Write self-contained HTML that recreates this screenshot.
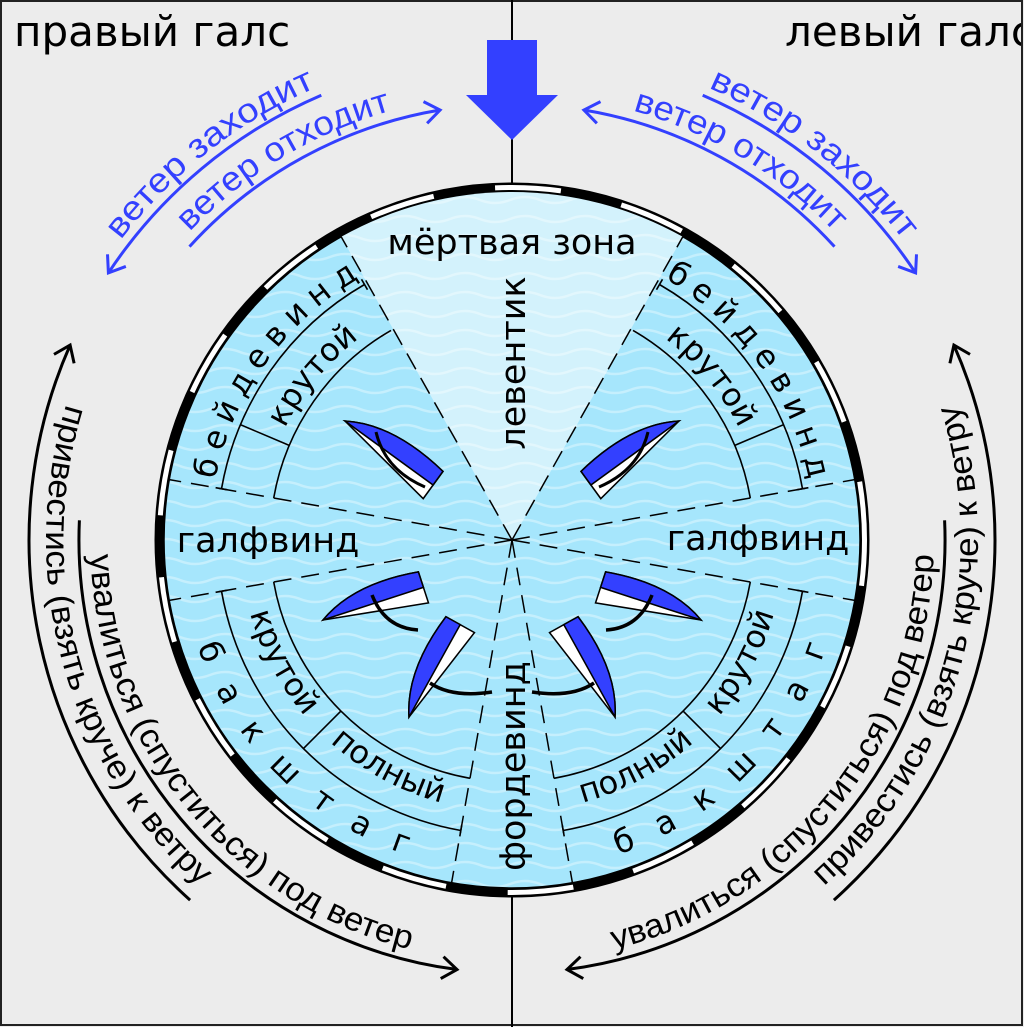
<!DOCTYPE html>
<html><head><meta charset="utf-8"><style>
html,body{margin:0;padding:0;background:#ececec}
svg{display:block}
.dj{font-family:"DejaVu Sans","Liberation Sans",sans-serif}
.ls{font-family:"Liberation Sans","DejaVu Sans",sans-serif}
</style></head><body>
<svg width="1024" height="1027" viewBox="0 0 1024 1027" xmlns="http://www.w3.org/2000/svg">
<defs>
<pattern id="wv" x="0" y="0" width="60" height="19" patternUnits="userSpaceOnUse">
<path d="M-30,10 Q-15,4 0,10 T30,10 T60,10 T90,10" fill="none" stroke="#fff" stroke-opacity="0.35" stroke-width="2.5"/>
</pattern>
<clipPath id="frame"><rect x="2" y="2" width="1019" height="1022"/></clipPath>
<marker id="ab" markerWidth="30" markerHeight="30" refX="0" refY="0" orient="auto" markerUnits="userSpaceOnUse" style="overflow:visible"><path d="M-15,-11 L0,0 L-15,11" fill="none" stroke="#3340ff" stroke-width="3"/></marker>
<marker id="ak" markerWidth="30" markerHeight="30" refX="0" refY="0" orient="auto" markerUnits="userSpaceOnUse" style="overflow:visible"><path d="M-15,-11 L0,0 L-15,11" fill="none" stroke="#000" stroke-width="3"/></marker>
<g id="boat">
<path d="M0,0 L-17,110 L17,110 C24,60 16,25 0,0Z" fill="#fff" stroke="#000" stroke-width="1.6"/>
<path d="M0,0 L0,110 L17,110 C24,60 16,25 0,0Z" fill="#3340ff" stroke="#000" stroke-width="1.6"/>
</g>
<g id="half">
<path d="M221.5,488.8 A295,295 0 0 1 364.5,284.5" fill="none" stroke="#000" stroke-width="1.6"/>
<path d="M273.7,498 A242,242 0 0 1 391,330.4" fill="none" stroke="#000" stroke-width="1.6"/>
<line x1="289.2" y1="445.4" x2="240.5" y2="424.7" stroke="#000" stroke-width="1.6"/>
<line x1="227.4" y1="489.8" x2="215.6" y2="487.7" stroke="#000" stroke-width="1.6"/>
<line x1="367.5" y1="289.7" x2="361.5" y2="279.3" stroke="#000" stroke-width="1.6"/>
<path d="M221.5,591.2 A295,295 0 0 0 460.8,830.5" fill="none" stroke="#000" stroke-width="1.6"/>
<path d="M273.7,582 A242,242 0 0 0 470,778.3" fill="none" stroke="#000" stroke-width="1.6"/>
<line x1="340.9" y1="711.1" x2="303.4" y2="748.6" stroke="#000" stroke-width="1.6"/>
<line x1="227.4" y1="590.2" x2="215.6" y2="592.3" stroke="#000" stroke-width="1.6"/>
<line x1="461.8" y1="824.6" x2="459.8" y2="836.4" stroke="#000" stroke-width="1.6"/>
<use href="#boat" transform="translate(345,421) rotate(-54) scale(0.99)"/>
<path d="M376,432 Q385,470 425,487" fill="none" stroke="#000" stroke-width="3"/>
<use href="#boat" transform="translate(323,620) rotate(-108) scale(0.96)"/>
<path d="M372,595 Q385,628 418,630" fill="none" stroke="#000" stroke-width="3.5"/>
<use href="#boat" transform="translate(409,717) rotate(-151) scale(0.96)"/>
<path d="M430,683 Q452,698 492,692" fill="none" stroke="#000" stroke-width="3.5"/>
</g>
<path id="t1" d="M29.8,437.5 A493,493 0 0 1 529.2,47.3"/>
<path id="t2" d="M90.3,394.8 A446,446 0 0 1 581.8,99.5"/>
<path id="t3" d="M494.8,47.3 A493,493 0 0 1 994.2,437.5"/>
<path id="t4" d="M442.2,99.5 A446,446 0 0 1 933.7,394.8"/>
<path id="t13" d="M128,276.1 A466,466 0 0 0 318.8,964.1"/>
<path id="t14" d="M97.8,459.5 A422,422 0 0 0 504.6,961.9"/>
<path id="t15" d="M705.2,964.1 A466,466 0 0 0 896,276.1"/>
<path id="t16" d="M519.4,961.9 A422,422 0 0 0 926.2,459.5"/>
<path id="t17" d="M209.9,563.2 A303,303 0 0 1 436.6,246.5"/>
<path id="t18" d="M587.4,246.5 A303,303 0 0 1 814.1,563.2"/>
<path id="t19" d="M259,542.2 A253,253 0 0 1 465.9,291.2"/>
<path id="t20" d="M558.1,291.2 A253,253 0 0 1 765,542.2"/>
<path id="t21" d="M246,483.5 A272,272 0 0 0 410.1,792.2"/>
<path id="t22" d="M258.9,639.7 A272,272 0 0 0 566.2,806.5"/>
<path id="t23" d="M181.3,569 A332,332 0 0 0 483.1,870.7"/>
<path id="t24" d="M613.9,792.2 A272,272 0 0 0 778,483.5"/>
<path id="t25" d="M457.8,806.5 A272,272 0 0 0 765.1,639.7"/>
<path id="t26" d="M540.9,870.7 A332,332 0 0 0 842.7,569"/>
</defs>

<rect x="1" y="1" width="1021" height="1024" fill="#ececec" stroke="#222" stroke-width="2"/>
<line x1="512" y1="0" x2="512" y2="1027" stroke="#000" stroke-width="2"/>

<g clip-path="url(#frame)">
<text x="14" y="46" class="dj" font-size="42" fill="#000">правый галс</text>
<text x="785" y="46" class="dj" font-size="42" fill="#000">левый галс</text>
</g>

<polygon points="487,40 537,40 537,95 558,95 512,140 466,95 487,95" fill="#3340ff"/>

<circle cx="512" cy="540" r="352.5" fill="#000" stroke="#000" stroke-width="10"/>
<circle cx="512" cy="540" r="352.5" fill="none" stroke="#fff" stroke-width="5" stroke-dasharray="66 62" stroke-dashoffset="20"/>
<circle cx="512" cy="540" r="348" fill="#a6e6fc" stroke="#000" stroke-width="1.5"/>
<path d="M512,540 L341.2,236.8 A348,348 0 0 1 682.8,236.8 Z" fill="#d3f2fc"/>
<circle cx="512" cy="540" r="347" fill="url(#wv)"/>

<g stroke="#000" stroke-width="1.5" stroke-dasharray="18 10" fill="none">
<line x1="512" y1="540" x2="169.3" y2="479.6"/>
<line x1="512" y1="540" x2="169.3" y2="600.4"/>
<line x1="512" y1="540" x2="854.7" y2="600.4"/>
<line x1="512" y1="540" x2="854.7" y2="479.6"/>
<line x1="512" y1="540" x2="451.6" y2="882.7"/>
<line x1="512" y1="540" x2="572.4" y2="882.7"/>
<line x1="512" y1="540" x2="341.2" y2="236.8"/>
<line x1="512" y1="540" x2="682.8" y2="236.8"/>
</g>

<use href="#half"/>
<use href="#half" transform="matrix(-1,0,0,1,1024,0)"/>

<g class="dj" font-size="35" fill="#000">
<text x="512" y="254" text-anchor="middle">мёртвая зона</text>
<text transform="translate(525,363) rotate(-90)" text-anchor="middle">левентик</text>
<text transform="translate(525,766) rotate(-90)" text-anchor="middle">фордевинд</text>
<text x="268" y="552" text-anchor="middle">галфвинд</text>
<text x="758" y="550" text-anchor="middle">галфвинд</text>
</g>
<g class="dj" font-size="32" fill="#000" text-anchor="middle">
<text><textPath href="#t17" startOffset="50%" textLength="255" lengthAdjust="spacing">б е й д е в и н д</textPath></text>
<text><textPath href="#t18" startOffset="50%" textLength="255" lengthAdjust="spacing">б е й д е в и н д</textPath></text>
<text><textPath href="#t19" startOffset="50%">крутой</textPath></text>
<text><textPath href="#t20" startOffset="50%">крутой</textPath></text>
<text><textPath href="#t21" startOffset="50%">крутой</textPath></text>
<text><textPath href="#t22" startOffset="50%">полный</textPath></text>
<text><textPath href="#t23" startOffset="50%" textLength="305" lengthAdjust="spacing">б а к ш т а г</textPath></text>
<text><textPath href="#t24" startOffset="50%">крутой</textPath></text>
<text><textPath href="#t25" startOffset="50%">полный</textPath></text>
<text><textPath href="#t26" startOffset="50%" textLength="305" lengthAdjust="spacing">б а к ш т а г</textPath></text>
</g>

<g fill="none" stroke="#3340ff" stroke-width="3">
<path d="M321.3,95.2 A484,484 0 0 0 108.4,272.9" marker-end="url(#ab)"/>
<path d="M189.5,246.6 A436,436 0 0 1 440.1,110" marker-end="url(#ab)"/>
<path d="M702.7,95.2 A484,484 0 0 1 915.6,272.9" marker-end="url(#ab)"/>
<path d="M834.5,246.6 A436,436 0 0 0 583.9,110" marker-end="url(#ab)"/>
</g>
<g class="ls" font-size="34" fill="#3340ff" text-anchor="middle">
<text><textPath href="#t1" startOffset="50%" textLength="250" lengthAdjust="spacingAndGlyphs">ветер заходит</textPath></text>
<text><textPath href="#t2" startOffset="50%" textLength="238" lengthAdjust="spacingAndGlyphs">ветер отходит</textPath></text>
<text><textPath href="#t3" startOffset="50%" textLength="250" lengthAdjust="spacingAndGlyphs">ветер заходит</textPath></text>
<text><textPath href="#t4" startOffset="50%" textLength="238" lengthAdjust="spacingAndGlyphs">ветер отходит</textPath></text>
</g>

<g fill="none" stroke="#000" stroke-width="3">
<path d="M190.1,900.1 A483,483 0 0 1 70.1,345.1" marker-end="url(#ak)"/>
<path d="M79.4,520.3 A433,433 0 0 0 457,969.5" marker-end="url(#ak)"/>
<path d="M833.9,900.1 A483,483 0 0 0 953.9,345.1" marker-end="url(#ak)"/>
<path d="M944.6,520.3 A433,433 0 0 1 567,969.5" marker-end="url(#ak)"/>
</g>
<g class="ls" font-size="33" fill="#000" text-anchor="middle">
<text><textPath href="#t13" startOffset="50%" textLength="528" lengthAdjust="spacingAndGlyphs">привестись (взять круче) к ветру</textPath></text>
<text><textPath href="#t14" startOffset="50%" textLength="545" lengthAdjust="spacingAndGlyphs">увалиться (спуститься) под ветер</textPath></text>
<text><textPath href="#t15" startOffset="50%" textLength="528" lengthAdjust="spacingAndGlyphs">привестись (взять круче) к ветру</textPath></text>
<text><textPath href="#t16" startOffset="50%" textLength="545" lengthAdjust="spacingAndGlyphs">увалиться (спуститься) под ветер</textPath></text>
</g>
</svg>
</body></html>
